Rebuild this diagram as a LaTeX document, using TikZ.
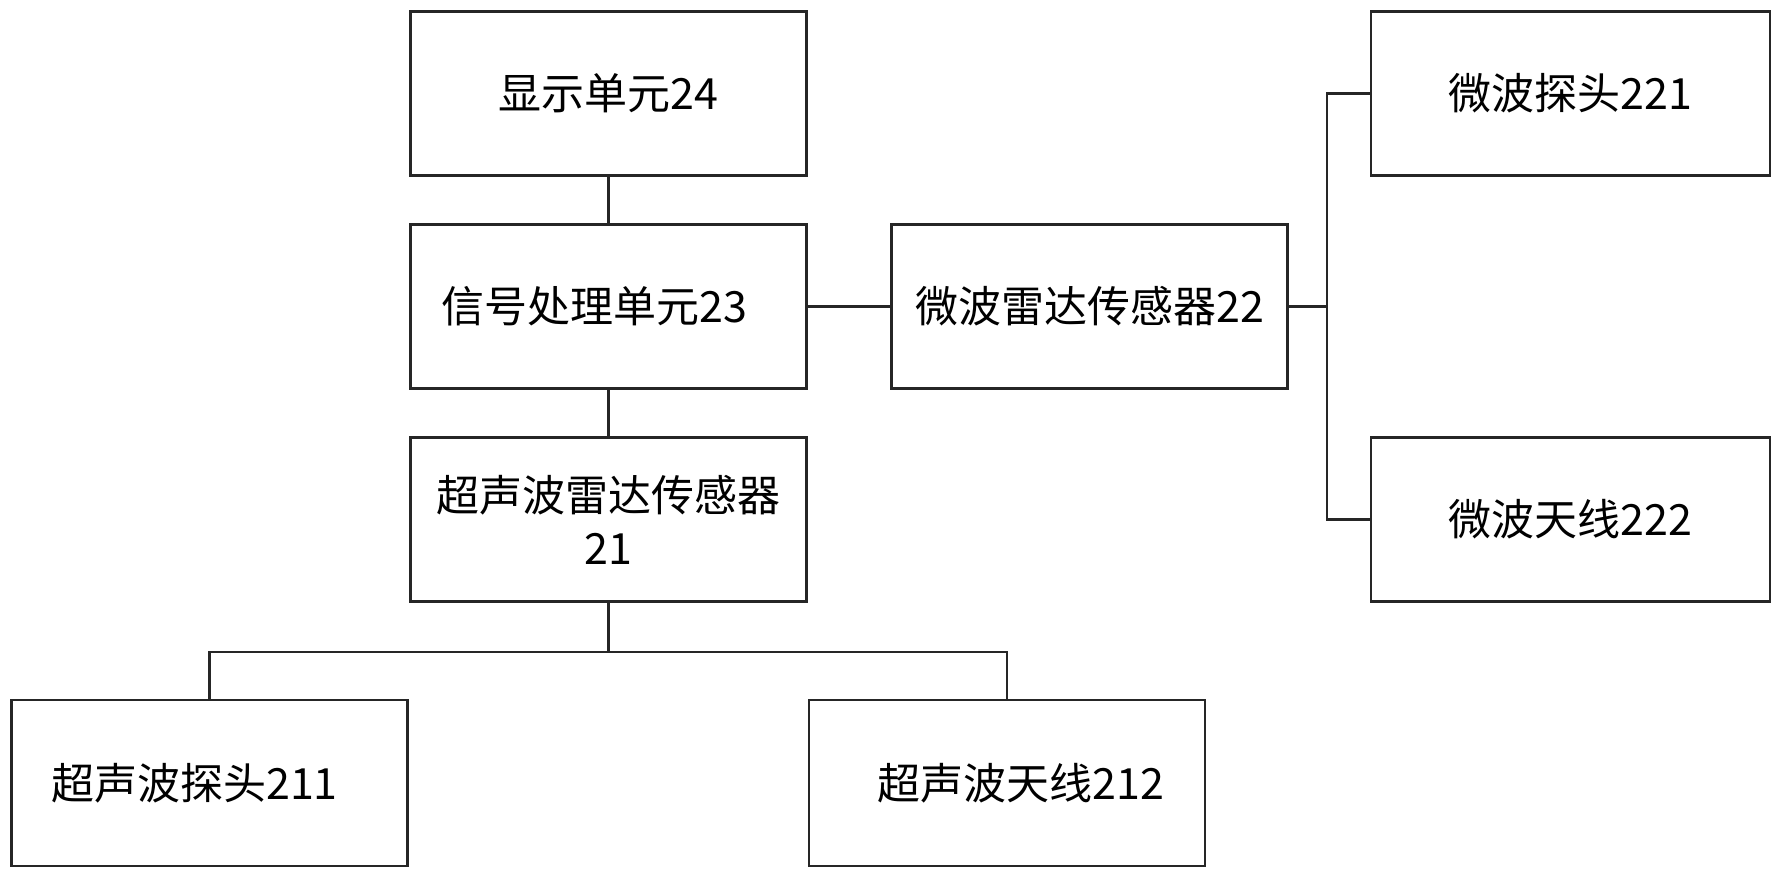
\documentclass[tikz,border=0pt]{standalone}
\usepackage{fontspec}
\newfontfamily\cjk{Noto Sans CJK SC}
\begin{document}
\begin{tikzpicture}[x=1pt,y=-1pt,
  box/.style={draw=black!85,line width=2.4pt,rectangle,inner sep=0pt,
    minimum width=396pt,minimum height=164pt,
    font=\cjk\fontsize{43}{53}\selectfont,align=center},
  wire/.style={draw=black!85,line width=2.2pt}]
\useasboundingbox (0,0) rectangle (1779,878);
\node[box] (n24) at (608.5,93.5) {显示单元24};
\node[box] (n23) at (608.5,306.5) {信号处理单元23\hspace*{28pt}};
\node[box] (n21) at (608.5,519.5) {\rule{0pt}{34pt}超声波雷达传感器\\21};
\node[box] (n22) at (1089.5,306.5) {微波雷达传感器22};
\node[box,minimum width=399pt] (n221) at (1570.5,93.5) {微波探头221};
\node[box,minimum width=399pt] (n222) at (1570.5,519.5) {微波天线222};
\node[box,minimum height=166pt] (n211) at (209.5,783) {超声波探头211\hspace*{30pt}};
\node[box,minimum height=166pt] (n212) at (1007,783) {\hspace*{28pt}超声波天线212};
\coordinate (b1) at (1327,306.5);
\coordinate (b2) at (608.5,652);
\draw[wire] (n24.south) -- (n23.north);
\draw[wire] (n23.south) -- (n21.north);
\draw[wire] (n23.east) -- (n22.west);
\draw[wire] (n22.east) -- (b1);
\draw[wire] (n221.west) -| (b1);
\draw[wire] (n222.west) -| (b1);
\draw[wire] (n21.south) -- (b2);
\draw[wire] (b2) -| (n211.north);
\draw[wire] (b2) -| (n212.north);
\end{tikzpicture}
\end{document}
